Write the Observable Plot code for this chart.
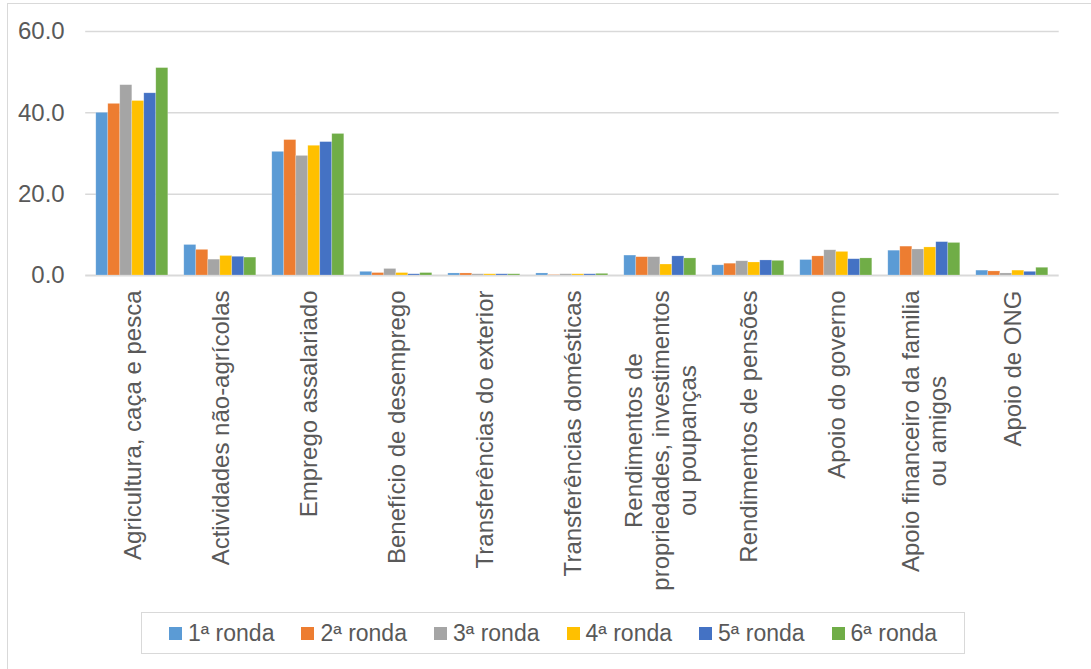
<!DOCTYPE html>
<html>
<head>
<meta charset="utf-8">
<script src="https://cdn.jsdelivr.net/npm/d3@7"></script>
<script src="https://cdn.jsdelivr.net/npm/@observablehq/plot@0.6"></script>
<style>
  html, body { margin: 0; padding: 0; background: #fff; }
  body { width: 1091px; height: 669px; position: relative; overflow: hidden; font-family: "Liberation Sans", Arial, sans-serif; }
  #frame { position: absolute; left: 7px; top: 3px; right: -10px; bottom: -10px; border: 1.5px solid #d9d9d9; }
  .layer { position: absolute; left: 0; top: 0; }
  #legend { position: absolute; left: 141px; top: 612px; width: 822px; height: 40px; border: 1.5px solid #d9d9d9;
            display: flex; align-items: center; justify-content: center; gap: 27px; font-size: 23px; color: #595959; }
  .item { display: flex; align-items: center; gap: 6px; }
  .sw { width: 13px; height: 13px; display: inline-block; }
</style>
</head>
<body>
<div id="frame"></div>
<div id="back" class="layer"></div>
<div id="front" class="layer"></div>
<div id="legend"></div>
<script>
const categories = [
  "Agricultura, caça e pesca",
  "Actividades não-agrícolas",
  "Emprego assalariado",
  "Benefício de desemprego",
  "Transferências do exterior",
  "Transferências domésticas",
  "Rendimentos de propriedades, investimentos ou poupanças",
  "Rendimentos de pensões",
  "Apoio do governo",
  "Apoio financeiro da familia ou amigos",
  "Apoio de ONG"
];
const categoryLabels = [
  "Agricultura, caça e pesca",
  "Actividades não-agrícolas",
  "Emprego assalariado",
  "Benefício de desemprego",
  "Transferências do exterior",
  "Transferências domésticas",
  "Rendimentos de\npropriedades, investimentos\nou poupanças",
  "Rendimentos de pensões",
  "Apoio do governo",
  "Apoio financeiro da familia\nou amigos",
  "Apoio de ONG"
];
const rounds = ["1ª ronda", "2ª ronda", "3ª ronda", "4ª ronda", "5ª ronda", "6ª ronda"];
const colors = ["#5B9BD5", "#ED7D31", "#A5A5A5", "#FFC000", "#4472C4", "#70AD47"];

const ronda1 = [40.0, 7.5, 30.4, 0.9, 0.5, 0.5, 4.9, 2.5, 3.8, 6.1, 1.2];
const ronda2 = [42.2, 6.3, 33.3, 0.6, 0.5, 0.1, 4.5, 2.9, 4.7, 7.1, 1.0];
const ronda3 = [46.8, 3.9, 29.4, 1.6, 0.3, 0.3, 4.5, 3.5, 6.2, 6.4, 0.5];
const ronda4 = [42.9, 4.8, 31.9, 0.6, 0.3, 0.3, 2.7, 3.2, 5.8, 6.9, 1.2];
const ronda5 = [44.8, 4.6, 32.8, 0.3, 0.3, 0.3, 4.7, 3.7, 4.0, 8.2, 0.9];
const ronda6 = [51.0, 4.4, 34.8, 0.6, 0.3, 0.4, 4.2, 3.6, 4.2, 8.0, 1.9];

const yTicks = [0, 20, 40, 60];
const yGrid = [20, 40, 60];

const series = [ronda1, ronda2, ronda3, ronda4, ronda5, ronda6];
const data = [];
series.forEach((vals, r) => vals.forEach((v, c) => data.push({cat: categories[c], round: rounds[r], value: v})));

const W = 1091, H = 669;
const margins = {marginLeft: 85.2, marginRight: 32.3, marginTop: 31, marginBottom: 394};
const FONT = "24px 'Liberation Sans', Arial, sans-serif";

// back layer: gridlines + y axis
const back = Plot.plot({
  width: W, height: H, ...margins,
  style: {font: FONT, color: "#595959", background: "transparent", overflow: "visible"},
  y: {domain: [0, 60], ticks: yTicks, tickFormat: d => d.toFixed(1), tickSize: 0, tickPadding: 21, label: null},
  marks: [
    Plot.ruleY(yGrid, {stroke: "#d9d9d9", strokeWidth: 1.5}),
    Plot.ruleY([0], {stroke: "#d9d9d9", strokeWidth: 2})
  ]
});
document.getElementById("back").appendChild(back);

// measure label text for centered multi-line layout
const ctx = document.createElement("canvas").getContext("2d");
ctx.font = FONT;
const labelMarks = categories.map((c, i) => {
  const lines = categoryLabels[i].split("\n");
  const maxW = Math.max(...lines.map(l => ctx.measureText(l).width));
  return Plot.text([c], {
    fx: d => d,
    text: () => categoryLabels[i],
    frameAnchor: "bottom",
    rotate: -90,
    textAnchor: "middle",
    lineAnchor: "middle",
    lineHeight: 1.13,
    dy: 15 + maxW / 2,
    fill: "#595959",
    fontSize: 24
  });
});

const front = Plot.plot({
  width: W, height: H, ...margins,
  style: {font: FONT, color: "#595959", background: "transparent", overflow: "visible"},
  fx: {domain: categories, paddingInner: 0.17, paddingOuter: 0.085, axis: null, label: null},
  x: {domain: rounds, padding: 0, axis: null},
  y: {domain: [0, 60], axis: null},
  color: {domain: rounds, range: colors},
  marks: [
    Plot.barY(data, {fx: "cat", x: "round", y: "value", fill: "round", stroke: "#ffffff", strokeOpacity: 0.35, strokeWidth: 0.6}),
    ...labelMarks
  ]
});
document.getElementById("front").appendChild(front);

// legend
const legend = document.getElementById("legend");
rounds.forEach((r, i) => {
  const it = document.createElement("div");
  it.className = "item";
  const sw = document.createElement("span");
  sw.className = "sw";
  sw.style.background = colors[i];
  const t = document.createElement("span");
  t.textContent = r;
  it.appendChild(sw); it.appendChild(t);
  legend.appendChild(it);
});
</script>
</body>
</html>
